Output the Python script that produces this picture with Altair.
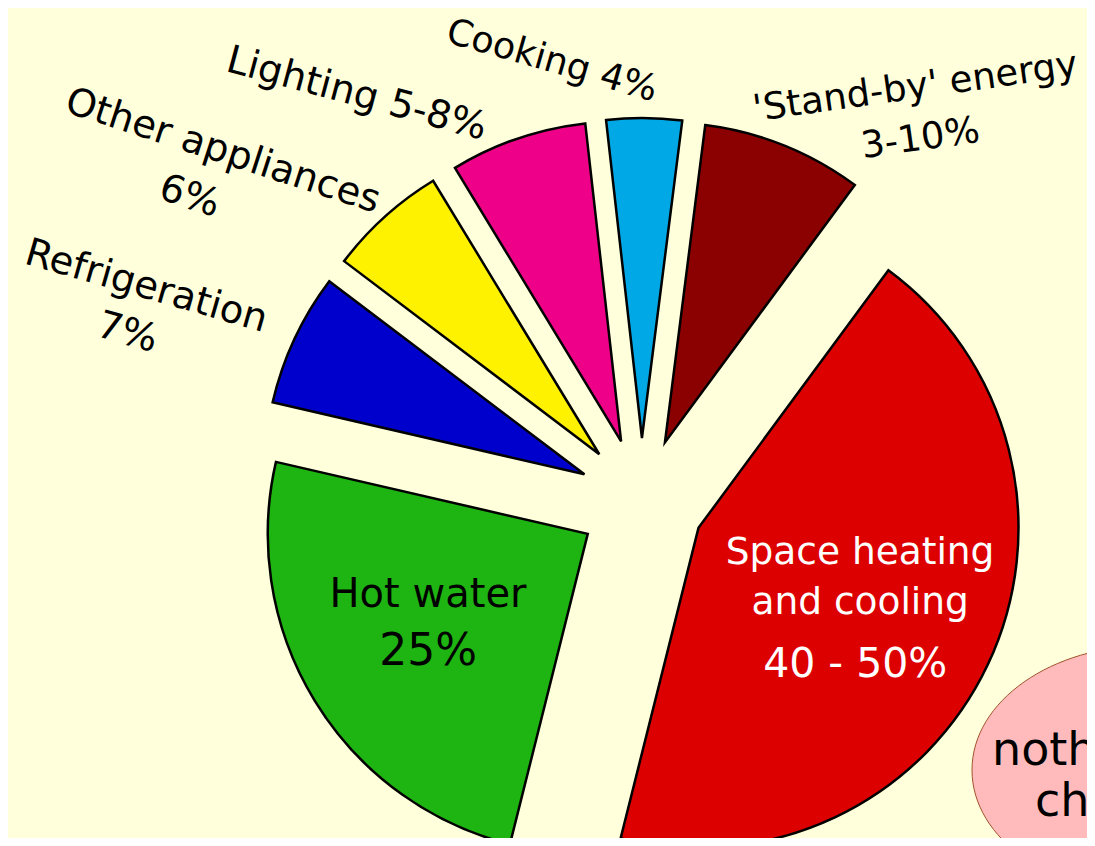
import altair as alt
import pandas as pd

# ---- data ----
categories = ["Space heating and cooling", "Hot water", "Refrigeration",
              "Other appliances", "Lighting", "Cooking", "'Stand-by' energy"]
shares = [43.8, 24.7, 6.7, 6.0, 6.9, 3.8, 8.1]   # visual slice sizes (%)
colors = ["#DD0000", "#1EB412", "#0000CC", "#FFF200", "#EE0088", "#00A8E6", "#8B0000"]
label_text = [["Space heating", "and cooling", "40 - 50%"],
              ["Hot water", "25%"],
              ["Refrigeration", "7%"],
              ["Other appliances", "6%"],
              ["Lighting 5-8%"],
              ["Cooking 4%"],
              ["'Stand-by' energy", "3-10%"]]
note_lines = ["nothing", "changes", "overnight"]

# ---- layout / style ----
W, H = 1079, 830
CX, CY = 633.5, 493
R = 320
EXPLODE = 63
START = 36.4
FONT = "DejaVu Sans"
BG = "#FFFFDC"

# (category index, line index): (radius from centre, angular offset deg, text angle, size, colour)
label_style = {
    (0, 0): (224.7, -11.8, 0, 37.5, "white"),
    (0, 1): (241.1, -0.3, 0, 37.5, "white"),
    (0, 2): (269.2, 12.2, 0, 41, "white"),
    (1, 0): (233.1, 7.8, 0, 40, "black"),
    (1, 1): (261.5, -3.85, 0, 44, "black"),
    (2, 0): (539.7, -1.6, 16, 38.5, "black"),
    (2, 1): (541.0, -6.9, 16, 38.5, "black"),
    (3, 0): (545.7, -8.0, 18, 38.5, "black"),
    (3, 1): (545.0, -13.9, 18, 38.5, "black"),
    (4, 0): (497.0, -16.1, 15, 38.5, "black"),
    (5, 0): (449.0, -11.9, 16, 36.5, "black"),
    (6, 0): (496.0, 11.7, 352, 37, "black"),
    (6, 1): (457.0, 15.8, 352, 37, "black"),
}

df = pd.DataFrame({"cat": categories, "share": shares, "idx": list(range(len(categories)))})

base = (
    alt.Chart(df)
    .transform_window(cum="sum(share)", sort=[alt.SortField("idx")], frame=[None, 0])
    .transform_joinaggregate(total="sum(share)")
    .transform_calculate(
        a0=f"{START}*PI/180 + (datum.cum - datum.share)/datum.total*2*PI",
        a1=f"{START}*PI/180 + datum.cum/datum.total*2*PI",
    )
    .transform_calculate(mid="(datum.a0 + datum.a1)/2")
    .transform_calculate(
        px=f"{CX} + {EXPLODE}*sin(datum.mid)",
        py=f"{CY} - {EXPLODE}*cos(datum.mid)",
    )
)

pie = base.mark_arc(radius=R, stroke="black", strokeWidth=2.5).encode(
    x=alt.X("px:Q", scale=None, axis=None),
    y=alt.Y("py:Q", scale=None, axis=None),
    theta=alt.Theta("a0:Q", scale=None, stack=None),
    theta2="a1:Q",
    color=alt.Color("cat:N", scale=alt.Scale(domain=categories, range=colors), legend=None),
)

layers = [pie]
for ci, lines in enumerate(label_text):
    for li, line in enumerate(lines):
        r, off, ang, size, col = label_style[(ci, li)]
        t = (
            base.transform_filter(alt.datum.idx == ci)
            .transform_calculate(
                lx=f"{CX} + {r}*sin(datum.mid + {off}*PI/180)",
                ly=f"{CY} - {r}*cos(datum.mid + {off}*PI/180)",
            )
            .mark_text(font=FONT, fontSize=size, color=col, angle=ang,
                       align="center", baseline="middle")
            .encode(x=alt.X("lx:Q", scale=None, axis=None),
                    y=alt.Y("ly:Q", scale=None, axis=None),
                    text=alt.value(line))
        )
        layers.append(t)

# pink note bubble (partly off the page, as in the reference)
ELLIPSE = "M-1,0 A1,0.70,0,1,1,1,0 A1,0.70,0,1,1,-1,0 Z"
one = alt.Data(values=[{"k": 0}])
bubble = alt.Chart(one).mark_point(
    shape=ELLIPSE, size=356 * 356, filled=True, fill="#FFBBBB", opacity=1,
    stroke="#A0522D", strokeWidth=1
).encode(x=alt.value(1142), y=alt.value(762))
layers.append(bubble)

note_x = [984, 1027, 1075]
for i, line in enumerate(note_lines):
    layers.append(
        alt.Chart(one).mark_text(font=FONT, fontSize=46, color="black", align="left",
                                 baseline="alphabetic")
        .encode(x=alt.value(note_x[i]), y=alt.value(757 + 51 * i), text=alt.value(line))
    )

chart = alt.layer(*layers).properties(
    width=W, height=H, autosize="none", padding=0, background=BG
).configure_view(stroke=None)

chart.save("out.html", embed_options={"renderer": "svg", "actions": False})
